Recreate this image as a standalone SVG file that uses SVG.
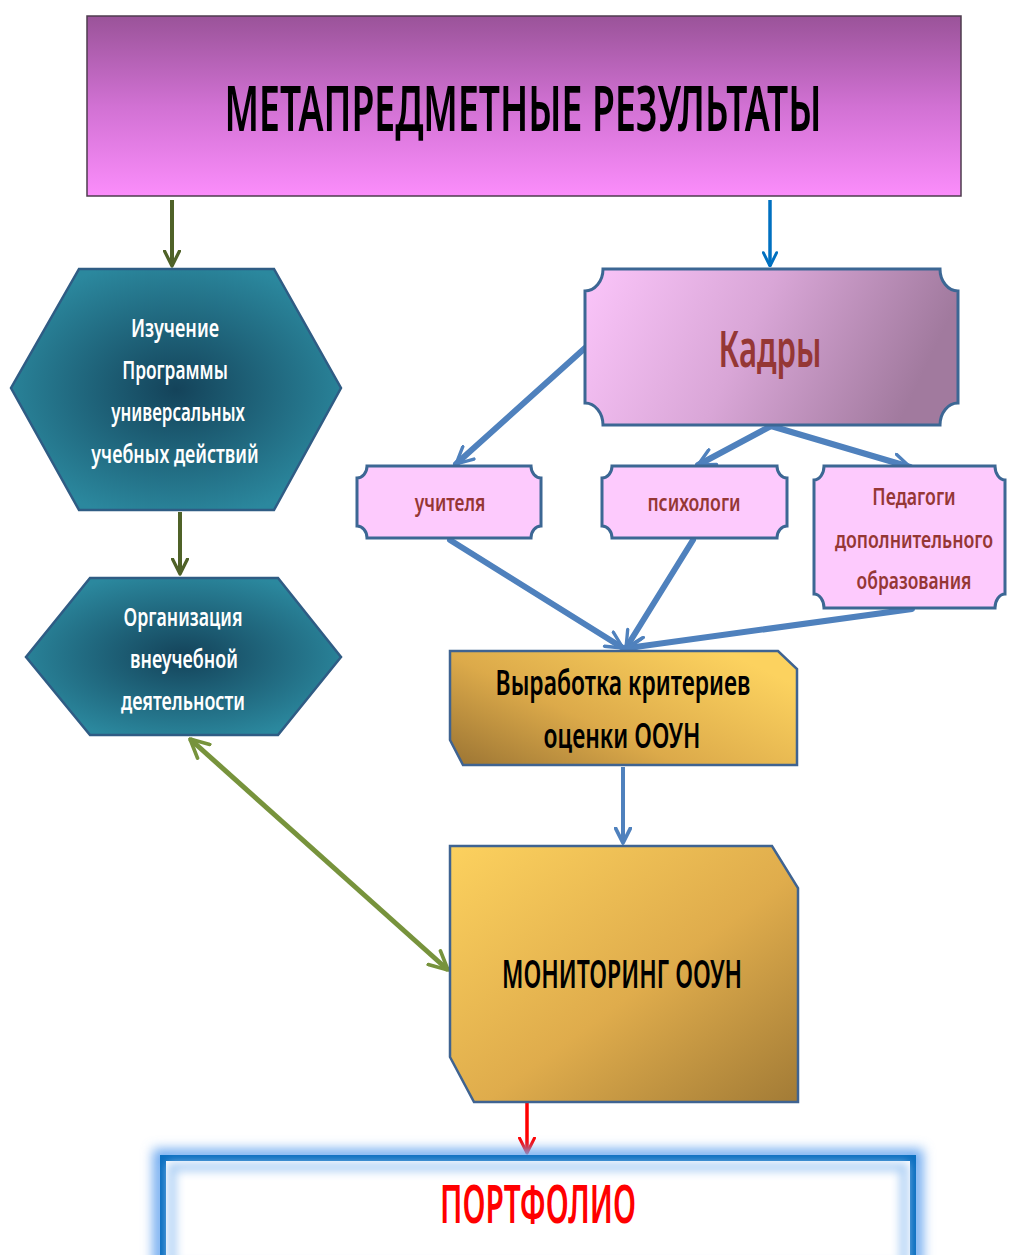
<svg xmlns="http://www.w3.org/2000/svg" width="1009" height="1255" viewBox="0 0 1009 1255">
<style>
text{font-family:"Noto Sans","Open Sans","Liberation Sans",sans-serif;text-anchor:middle;font-weight:600}
.hex{stroke:#2f5c84;stroke-width:2.5;fill:url(#gHex)}
.hext{fill:#ffffff;font-size:26px}
.pl{stroke:#3c6794;stroke-width:3;fill:#fdcafd}
.plt{fill:#953735;font-size:23px}
.bl{stroke:#4f81bd;stroke-width:6;fill:none;stroke-linecap:round}
.gold{stroke:#3f6391;stroke-width:2.5}
.blk{fill:#000000}
</style>
<defs>
<linearGradient id="gTop" x1="0" y1="0" x2="0" y2="1">
<stop offset="0" stop-color="#9a5399"/><stop offset="0.5" stop-color="#d171d3"/><stop offset="1" stop-color="#fb8dfb"/>
</linearGradient>
<radialGradient id="gHex" cx="0.5" cy="0.5" r="0.55">
<stop offset="0" stop-color="#14435a"/><stop offset="1" stop-color="#2b889e"/>
</radialGradient>
<linearGradient id="gKadry" x1="0" y1="0" x2="1" y2="0.2">
<stop offset="0" stop-color="#fbc5fa"/><stop offset="0.5" stop-color="#d9a6d7"/><stop offset="1" stop-color="#a17a9e"/>
</linearGradient>
<linearGradient id="gVyr" x1="0" y1="1" x2="1" y2="0.3">
<stop offset="0" stop-color="#9b7433"/><stop offset="0.45" stop-color="#dcaa4a"/><stop offset="1" stop-color="#fcd25f"/>
</linearGradient>
<linearGradient id="gMon" x1="0" y1="0" x2="1" y2="1">
<stop offset="0" stop-color="#fcd15e"/><stop offset="0.55" stop-color="#dfac4c"/><stop offset="1" stop-color="#a27b36"/>
</linearGradient>
<filter id="glow" x="-10%" y="-40%" width="120%" height="180%">
<feGaussianBlur stdDeviation="6"/>
</filter>
<filter id="inglow" x="-10%" y="-40%" width="120%" height="180%">
<feGaussianBlur stdDeviation="5"/>
</filter>
<marker id="aBlue" viewBox="0 0 12 12" refX="11" refY="6" markerWidth="20" markerHeight="20" markerUnits="userSpaceOnUse" orient="auto">
<path d="M1,1 L11,6 L1,11" fill="none" stroke="#4f81bd" stroke-width="2" stroke-linecap="round" stroke-linejoin="round"/>
</marker>
<marker id="aBlueTop" viewBox="0 0 12 12" refX="11" refY="6" markerWidth="16" markerHeight="16" markerUnits="userSpaceOnUse" orient="auto">
<path d="M1,1 L11,6 L1,11" fill="none" stroke="#0070c0" stroke-width="2.2" stroke-linecap="round" stroke-linejoin="round"/>
</marker>
<marker id="aBlueFill" viewBox="0 0 12 12" refX="11" refY="6" markerWidth="18" markerHeight="18" markerUnits="userSpaceOnUse" orient="auto">
<path d="M1,1 L11,6 L1,11" fill="none" stroke="#4f81bd" stroke-width="2.5" stroke-linecap="round" stroke-linejoin="round"/>
</marker>
<marker id="aDG" viewBox="0 0 12 12" refX="11" refY="6" markerWidth="18" markerHeight="18" markerUnits="userSpaceOnUse" orient="auto">
<path d="M1,1 L11,6 L1,11" fill="none" stroke="#4f6228" stroke-width="2.2" stroke-linecap="round" stroke-linejoin="round"/>
</marker>
<marker id="aLG" viewBox="0 0 12 12" refX="11" refY="6" markerWidth="22" markerHeight="22" markerUnits="userSpaceOnUse" orient="auto-start-reverse">
<path d="M1,1 L11,6 L1,11" fill="none" stroke="#77933c" stroke-width="2" stroke-linecap="round" stroke-linejoin="round"/>
</marker>
<marker id="aRed" viewBox="0 0 12 12" refX="11" refY="6" markerWidth="18" markerHeight="18" markerUnits="userSpaceOnUse" orient="auto">
<path d="M1,1 L11,6 L1,11" fill="none" stroke="#ff0000" stroke-width="2" stroke-linecap="round" stroke-linejoin="round"/>
</marker>
</defs>

<rect width="1009" height="1255" fill="#ffffff"/>

<g id="connectors">
<line x1="172" y1="200" x2="172" y2="266" stroke="#4f6228" stroke-width="4" marker-end="url(#aDG)"/>
<line x1="770" y1="200" x2="770" y2="266" stroke="#0070c0" stroke-width="3.5" marker-end="url(#aBlueTop)"/>
<line x1="180" y1="512" x2="180" y2="574" stroke="#4f6228" stroke-width="4" marker-end="url(#aDG)"/>
<line class="bl" x1="585" y1="348" x2="456" y2="464" marker-end="url(#aBlue)"/>
<line class="bl" x1="771" y1="426" x2="698" y2="465" marker-end="url(#aBlue)"/>
<line class="bl" x1="771" y1="426" x2="910" y2="467" marker-end="url(#aBlue)"/>
<line class="bl" x1="450" y1="540" x2="623" y2="648" marker-end="url(#aBlue)"/>
<line class="bl" x1="693" y1="540" x2="626" y2="648" marker-end="url(#aBlue)"/>
<line class="bl" x1="912" y1="609" x2="628" y2="648" marker-end="url(#aBlue)"/>
<line x1="623" y1="767" x2="623" y2="843" stroke="#4f81bd" stroke-width="4" marker-end="url(#aBlueFill)"/>
<line x1="190" y1="739" x2="448" y2="970" stroke="#77933c" stroke-width="5" marker-start="url(#aLG)" marker-end="url(#aLG)"/>
<line x1="527" y1="1103" x2="527" y2="1153" stroke="#ff0000" stroke-width="3.5" marker-end="url(#aRed)"/>
</g>

<g id="meta">
<rect x="87" y="16" width="874" height="180" fill="url(#gTop)" stroke="#4d3d4d" stroke-width="1.5"/>
<text transform="translate(523,131) scale(0.6,1)" class="blk" font-size="64" font-weight="700" textLength="995" lengthAdjust="spacingAndGlyphs">МЕТАПРЕДМЕТНЫЕ  РЕЗУЛЬТАТЫ</text>
</g>

<g id="izuchenie">
<polygon class="hex" points="79,269 274,269 341,388 274,510 79,510 11,388"/>
<text class="hext" transform="translate(175,337) scale(0.7,1)" textLength="126" lengthAdjust="spacingAndGlyphs">Изучение</text>
<text class="hext" transform="translate(175,379) scale(0.7,1)" textLength="151" lengthAdjust="spacingAndGlyphs">Программы</text>
<text class="hext" transform="translate(178,421) scale(0.7,1)" textLength="191" lengthAdjust="spacingAndGlyphs">универсальных</text>
<text class="hext" transform="translate(175,463) scale(0.7,1)" textLength="239" lengthAdjust="spacingAndGlyphs">учебных действий</text>
</g>

<g id="organizaciya">
<polygon class="hex" points="90,578 278,578 341,657 278,735 90,735 26,657"/>
<text class="hext" transform="translate(183,626) scale(0.7,1)" textLength="170" lengthAdjust="spacingAndGlyphs">Организация</text>
<text class="hext" transform="translate(184,668) scale(0.7,1)" textLength="154" lengthAdjust="spacingAndGlyphs">внеучебной</text>
<text class="hext" transform="translate(183,710) scale(0.7,1)" textLength="177" lengthAdjust="spacingAndGlyphs">деятельности</text>
</g>

<g id="kadry">
<path d="M603,269 H940 A18,22 0 0 0 958,291 V403 A18,22 0 0 0 940,425 H603 A18,22 0 0 0 585,403 V291 A18,22 0 0 0 603,269 Z" fill="url(#gKadry)" stroke="#3c6794" stroke-width="3"/>
<text transform="translate(770,367) scale(0.7,1)" fill="#953735" font-size="50" textLength="147" lengthAdjust="spacingAndGlyphs">Кадры</text>
</g>

<g id="uchitelya">
<path d="M367,466 H531 A10,12 0 0 0 541,478 V526 A10,12 0 0 0 531,538 H367 A10,12 0 0 0 357,526 V478 A10,12 0 0 0 367,466 Z" class="pl"/>
<text class="plt" transform="translate(450,511) scale(0.7,1)" textLength="101" lengthAdjust="spacingAndGlyphs">учителя</text>
</g>

<g id="psihologi">
<path d="M612,466 H777 A10,12 0 0 0 787,478 V526 A10,12 0 0 0 777,538 H612 A10,12 0 0 0 602,526 V478 A10,12 0 0 0 612,466 Z" class="pl"/>
<text class="plt" transform="translate(694,511) scale(0.7,1)" textLength="133" lengthAdjust="spacingAndGlyphs">психологи</text>
</g>

<g id="pedagogi">
<path d="M824,466 H995 A10,14 0 0 0 1005,480 V594 A10,14 0 0 0 995,608 H824 A10,14 0 0 0 814,594 V480 A10,14 0 0 0 824,466 Z" class="pl"/>
<text class="plt" transform="translate(914,505) scale(0.7,1)" textLength="119" lengthAdjust="spacingAndGlyphs">Педагоги</text>
<text class="plt" transform="translate(914,548) scale(0.7,1)" textLength="226" lengthAdjust="spacingAndGlyphs">дополнительного</text>
<text class="plt" transform="translate(914,589) scale(0.7,1)" textLength="164" lengthAdjust="spacingAndGlyphs">образования</text>
</g>

<g id="vyrabotka">
<path d="M450,651 H778 L797,669 V765 H463 L450,740 Z" fill="url(#gVyr)" class="gold"/>
<text class="blk" transform="translate(623,695) scale(0.7,1)" font-size="34" textLength="364" lengthAdjust="spacingAndGlyphs">Выработка критериев</text>
<text class="blk" transform="translate(622,748) scale(0.7,1)" font-size="34" textLength="224" lengthAdjust="spacingAndGlyphs">оценки ООУН</text>
</g>

<g id="monitoring">
<path d="M450,846 H772 L798,888 V1102 H474 L450,1057 Z" fill="url(#gMon)" class="gold"/>
<text class="blk" transform="translate(622,988) scale(0.7,1)" font-size="40" textLength="343" lengthAdjust="spacingAndGlyphs">МОНИТОРИНГ ООУН</text>
</g>

<g id="portfolio">
<rect x="160" y="1156" width="756" height="110" fill="none" stroke="#6faaf0" stroke-width="14" filter="url(#glow)"/>
<rect x="163" y="1158" width="750" height="110" fill="#ffffff" stroke="#0b6fc0" stroke-width="6"/>
<rect x="172" y="1167" width="732" height="100" fill="none" stroke="#a9cdf4" stroke-width="8" filter="url(#inglow)"/>
<text transform="translate(538,1223) scale(0.7,1)" fill="#ff0000" font-size="52" font-weight="700" textLength="280" lengthAdjust="spacingAndGlyphs">ПОРТФОЛИО</text>
</g>
</svg>
